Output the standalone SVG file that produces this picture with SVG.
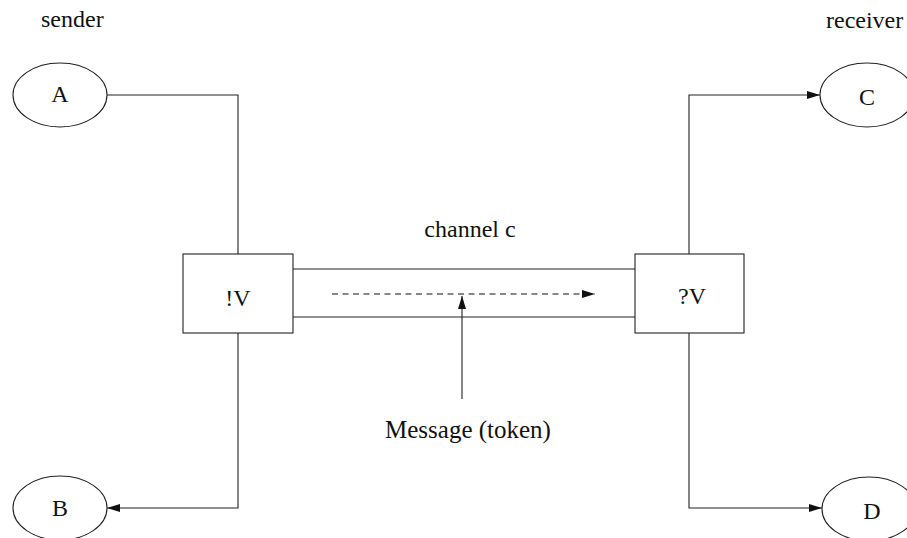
<svg xmlns="http://www.w3.org/2000/svg" width="907" height="538" viewBox="0 0 907 538">
  <style>
    .shape { fill: #fff; stroke: #222; stroke-width: 1.1; }
    .wire { fill: none; stroke: #222; stroke-width: 1.1; }
    .dash { fill: none; stroke: #111; stroke-width: 1.1; stroke-dasharray: 6 4.5; }
    text { font-family: "Liberation Serif", "Times New Roman", serif; font-size: 24px; fill: #111; }
    .mid { text-anchor: middle; }
    .big { font-size: 25px; }
  </style>
  <defs>
    <marker id="arrow" viewBox="0 0 13 8" refX="13" refY="4" markerWidth="13" markerHeight="8" markerUnits="userSpaceOnUse" orient="auto">
      <path d="M0,0 L13,4 L0,8 Z" fill="#111"/>
    </marker>
  </defs>

  <text x="41" y="27">sender</text>
  <text x="826" y="28">receiver</text>
  <text class="mid" x="470" y="237">channel c</text>
  <text class="mid big" x="468" y="438">Message (token)</text>

  <g id="connectors">
    <!-- channel walls -->
    <line class="wire" x1="293" y1="269" x2="635" y2="269"/>
    <line class="wire" x1="293" y1="317" x2="635" y2="317"/>
    <!-- token flow -->
    <line class="dash" x1="332" y1="294" x2="595" y2="294" marker-end="url(#arrow)"/>
    <line class="wire" x1="462" y1="399" x2="462" y2="296" marker-end="url(#arrow)"/>
    <!-- sender side -->
    <polyline class="wire" points="107,95 238,95 238,254"/>
    <polyline class="wire" points="238,333 238,508 107,508" marker-end="url(#arrow)"/>
    <!-- receiver side -->
    <polyline class="wire" points="689,254 689,95 820,95" marker-end="url(#arrow)"/>
    <polyline class="wire" points="689,333 689,508 822,508" marker-end="url(#arrow)"/>
  </g>

  <g id="node-A">
    <ellipse class="shape" cx="60" cy="95" rx="47" ry="32"/>
    <text class="mid" x="60" y="102">A</text>
  </g>
  <g id="node-B">
    <ellipse class="shape" cx="60" cy="508" rx="47" ry="32"/>
    <text class="mid" x="60" y="516">B</text>
  </g>
  <g id="node-C">
    <ellipse class="shape" cx="867" cy="95" rx="47" ry="32"/>
    <text class="mid" x="867" y="105">C</text>
  </g>
  <g id="node-D">
    <ellipse class="shape" cx="869" cy="509" rx="47" ry="32"/>
    <text class="mid" x="872" y="519">D</text>
  </g>
  <g id="node-send">
    <rect class="shape" x="183" y="254" width="110" height="79"/>
    <text class="mid" x="238" y="306">!V</text>
  </g>
  <g id="node-receive">
    <rect class="shape" x="635" y="254" width="109" height="79"/>
    <text class="mid" x="692" y="304">?V</text>
  </g>
</svg>
